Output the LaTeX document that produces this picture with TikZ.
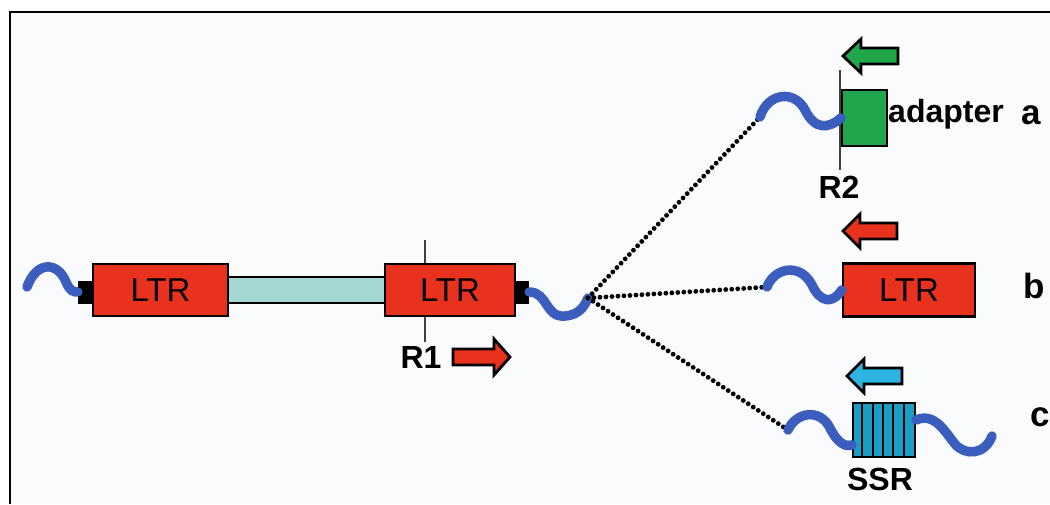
\documentclass[tikz,border=0pt]{standalone}
\usepackage{fontspec}
\setmainfont{Liberation Sans}
\usetikzlibrary{calc}
\definecolor{ltrred}{HTML}{E8321E}
\definecolor{adgreen}{HTML}{20A64B}
\definecolor{tealbar}{HTML}{A3D8D4}
\definecolor{ssrblue}{HTML}{1A9FC4}
\definecolor{arrblue}{HTML}{2DB4E2}
\definecolor{waveblue}{HTML}{3B5EBE}
\definecolor{bgc}{HTML}{FAFBFD}
\begin{document}
\begin{tikzpicture}[x=1pt,y=-1pt,
  wave/.style={line width=9.5pt, draw=waveblue, line cap=round},
  dotline/.style={line width=4.8pt, line cap=round, dash pattern=on 0pt off 6pt},
  boxsty/.style={draw=black, line width=2.6pt, inner sep=0pt, font=\fontsize{33}{38}\selectfont},
  capsty/.style={fill=black, inner sep=0pt, minimum width=15pt, minimum height=23pt},
  lbl/.style={font=\fontsize{32}{38}\selectfont\bfseries, inner sep=0pt, anchor=base},
  lett/.style={font=\fontsize{35}{40}\selectfont\bfseries, inner sep=0pt, anchor=base west},
  cutline/.style={line width=2.4pt, draw=black!75},
  arrsty/.style={draw=black, line width=2.8pt, line join=miter}]
\useasboundingbox (0,0) rectangle (1050,504);
\fill[bgc] (11,13) rectangle (1050,504);
\draw[line width=2.5pt] (10,504) -- (10,12) -- (1050,12);

% ---- main construct ----
\coordinate (r1top) at (425,240);
\coordinate (r1bot) at (425,342);
\draw[cutline] (r1top) -- (r1bot);
\node[boxsty, fill=tealbar, minimum width=160pt, minimum height=26pt] (bar) at (306,290) {};
\node[capsty] (capL) at (85.5,292) {};
\node[capsty] (capR) at (521.5,292) {};
\node[boxsty, fill=ltrred, minimum width=135pt, minimum height=52pt] (ltr1) at (160.5,290) {LTR};
\node[boxsty, fill=ltrred, minimum width=130pt, minimum height=52pt] (ltr2) at (450,290) {LTR};
\node[lbl] (R1) at (421,368) {R1};
\draw[arrsty, fill=ltrred] (453,349) -- (494,349) -- (494,339) -- (510,357) -- (494,375) -- (494,365) -- (453,365) -- cycle;

% waves of main construct
\coordinate (wL) at (27,287);
\draw[wave] (wL) .. controls (37,260) and (58,262) .. (66,282) .. controls (70,291) and (73,292) .. (capL.west);
\coordinate (J) at (588,298);
\draw[wave] (capR.east) .. controls (548,292) and (545,318) .. (565,316) .. controls (580,315) and (585,305) .. (J);

% ---- dotted connectors ----
\coordinate (wa) at (760,117);
\coordinate (wb) at (767,287);
\coordinate (wc) at (788,430);
\draw[dotline] (J) -- (wa);
\draw[dotline] (J) -- (wb);
\draw[dotline] (J) -- (wc);

% ---- a : adapter ----
\draw[arrsty, fill=adgreen] (898,48) -- (861,48) -- (861,39) -- (843,56) -- (861,73) -- (861,64) -- (898,64) -- cycle;
\draw[cutline] (840,70) -- (840,170);
\node[draw=black, line width=2pt, fill=adgreen, minimum width=45pt, minimum height=56pt, inner sep=0pt] (adbox) at (864.5,118) {};
\draw[wave] (wa) .. controls (768,92) and (795,90) .. (805,110) .. controls (815,130) and (828,129) .. (adbox.west);
\node[lbl] (R2) at (839,198) {R2};
\node[font=\fontsize{32}{38}\selectfont\bfseries, inner sep=0pt, anchor=base west] (adapter) at (888,122) {adapter};
\node[lett] (la) at (1021,124) {a};

% ---- b : LTR ----
\draw[arrsty, fill=ltrred] (897,223) -- (860,223) -- (860,214) -- (843,231) -- (860,248) -- (860,239) -- (897,239) -- cycle;
\node[boxsty, fill=ltrred, minimum width=132pt, minimum height=53pt] (ltr3) at (909,290) {LTR};
\draw[wave] (wb) .. controls (774,268) and (800,262) .. (812,285) .. controls (820,302) and (832,305) .. (ltr3.west);
\node[lett] (lb) at (1023,298) {b};

% ---- c : SSR ----
\draw[arrsty, fill=arrblue] (902,368) -- (864,368) -- (864,359) -- (847,376) -- (864,393) -- (864,384) -- (902,384) -- cycle;
\node[draw=black, line width=2pt, fill=ssrblue, minimum width=62pt, minimum height=54pt, inner sep=0pt] (ssr) at (884,430) {};
\foreach \i in {1,...,5} {\draw[line width=1.8pt] ($(ssr.south west)+(\i*10.33,0)$) -- ($(ssr.north west)+(\i*10.33,0)$);}
\draw[wave] (wc) .. controls (796,412) and (820,408) .. (830,428) .. controls (838,444) and (846,447) .. (ssr.west |- 0,445);
\coordinate (wcend) at (992,436);
\draw[wave] (ssr.east |- 0,420) .. controls (935,412) and (945,432) .. (955,444) .. controls (965,456) and (985,455) .. (wcend);
\node[lbl] (SSR) at (880,490) {SSR};
\node[lett] (lc) at (1030,426) {c};
\end{tikzpicture}
\end{document}
